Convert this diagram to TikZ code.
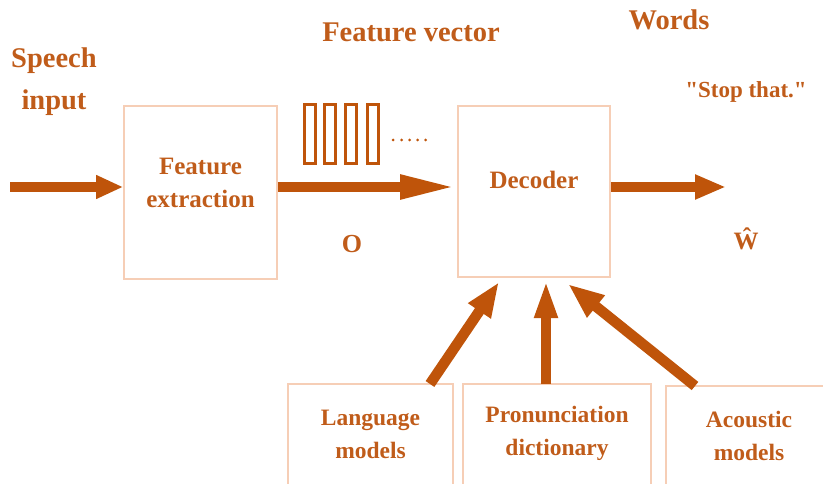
\documentclass[tikz,border=0pt]{standalone}
\usepackage{fontspec}
\setmainfont{Liberation Serif}
\usetikzlibrary{arrows.meta}
\definecolor{arrowc}{RGB}{191,84,10}
\definecolor{textc}{RGB}{192,92,26}
\definecolor{boxc}{RGB}{246,206,182}
\tikzset{
  box/.style={draw=boxc, line width=1.6pt, rectangle, inner sep=0pt},
  lbl/.style={text=textc, font=\bfseries, align=center, inner sep=0pt},
  fat/.style={draw=arrowc, line width=10.5pt},
  bar/.style={draw=arrowc, line width=3.2pt}
}
\newcommand{\fs}[1]{\fontsize{#1}{#1}\selectfont}
\newcommand{\sq}{\XeTeXglyph\XeTeXcharglyph"22\relax}
\begin{document}
\begin{tikzpicture}[x=1pt,y=-1pt]
\useasboundingbox (0,0) rectangle (823,484);
\path[clip] (0,0) rectangle (823,484);
% boxes
\node[box, minimum width=153pt, minimum height=173pt] (fe) at (200.5,192.5) {};
\node[box, minimum width=152pt, minimum height=171pt] (dec) at (534,191.5) {};
\node[box, minimum width=165pt, minimum height=110pt] (lm) at (370.5,439) {};
\node[box, minimum width=188pt, minimum height=110pt] (pd) at (557,439) {};
\node[box, minimum width=170pt, minimum height=110pt] (am) at (751,441) {};
% texts in boxes
\node[lbl, font=\bfseries\fs{25}, anchor=base] at (200.5,175) {Feature};
\node[lbl, font=\bfseries\fs{25}, anchor=base] at (200.5,208) {extraction};
\node[lbl, font=\bfseries\fs{25}, anchor=base] at (534,189) {Decoder};
\node[lbl, font=\bfseries\fs{23.5}, anchor=base] at (370.5,425) {Language};
\node[lbl, font=\bfseries\fs{23.5}, anchor=base] at (370.5,458) {models};
\node[lbl, font=\bfseries\fs{23.5}, anchor=base] at (557,422) {Pronunciation};
\node[lbl, font=\bfseries\fs{23.5}, anchor=base] at (557,455) {dictionary};
\node[lbl, font=\bfseries\fs{23.5}, anchor=base] at (749,427) {Acoustic};
\node[lbl, font=\bfseries\fs{23.5}, anchor=base] at (749,460) {models};
% free labels
\node[lbl, font=\bfseries\fs{28.5}, anchor=base] (sp) at (54,68) {Speech};
\node[lbl, font=\bfseries\fs{28.5}, anchor=base] (inp) at (54,110) {input};
\node[lbl, font=\bfseries\fs{28.5}, anchor=base] (fv) at (411,42) {Feature vector};
\node[lbl, font=\bfseries\fs{28.5}, anchor=base] (wd) at (669,30) {Words};
\node[lbl, font=\bfseries\fs{23}, anchor=base] (st) at (746,98) {\sq Stop that.\sq};
\node[lbl, font=\bfseries\fs{26}, anchor=base] (o) at (352,252) {O};
\node[lbl, font=\bfseries\fs{25}, anchor=base] (w) at (746,250) {Ŵ};
% feature vector bars
\foreach \x in {303,323,344,366} {
  \draw[bar] (\x+1.6,104.6) rectangle (\x+12.4,163.4);
}
\foreach \x in {393,401.5,409.5,417.5,425.5} {
  \fill[arrowc] (\x,140) circle (1.5pt);
}
% coordinates
\coordinate (in) at (10,187);
\coordinate (out) at (726,187);
\coordinate (s1) at (430,384);
\coordinate (t1) at (499,282);
\coordinate (s2) at (546,384);
\coordinate (t2) at (546,280);
\coordinate (s3) at (695,386);
\coordinate (t3) at (568,284);
% arrows
\draw[fat, -{Triangle[length=27pt,width=22pt]}] (in) -- (fe.west |- in);
\draw[fat, -{Triangle[length=57pt,width=22pt]}] (fe.east |- in) -- (dec.west |- in);
\draw[fat, -{Triangle[length=31pt,width=23pt]}] (dec.east |- in) -- (out);
\draw[fat, -{Triangle[length=35pt,width=25pt]}] (s1) -- (t1);
\draw[fat, -{Triangle[length=38pt,width=21pt]}] (s2) -- (t2);
\draw[fat, -{Triangle[length=36pt,width=26pt]}] (s3) -- (t3);
\end{tikzpicture}
\end{document}
